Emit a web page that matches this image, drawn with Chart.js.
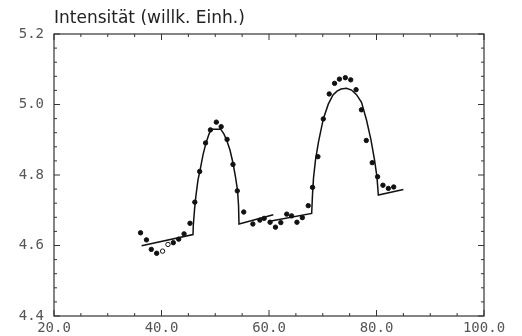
<!DOCTYPE html>
<html>
<head>
<meta charset="utf-8">
<script src="https://cdn.jsdelivr.net/npm/chart.js@4.4.1/dist/chart.umd.min.js"></script>
<style>
  html, body { margin: 0; padding: 0; background: #fff; }
  #wrap { width: 522px; height: 336px; }
</style>
</head>
<body>
<div id="wrap"><canvas id="chart" width="522" height="336"></canvas></div>
<script>
// Measured intensities (dots)
const pointX = [36.1, 37.2, 38.1, 39.1, 40.2, 41.2, 42.2, 43.2, 44.2, 45.3,
  46.2, 47.1, 48.2, 49.1, 50.2, 51.1, 52.2, 53.3, 54.1, 55.3,
  57.0, 58.3, 59.1, 60.2, 61.2, 62.2, 63.3, 64.2, 65.2, 66.2,
  67.3, 68.1, 69.1, 70.1, 71.2, 72.2, 73.1, 74.2, 75.2, 76.2,
  77.2, 78.1, 79.2, 80.2, 81.2, 82.2, 83.2];
const pointY = [4.636, 4.616, 4.589, 4.578, 4.584, 4.603, 4.608, 4.618, 4.633, 4.663,
  4.723, 4.810, 4.891, 4.928, 4.950, 4.937, 4.901, 4.830, 4.755, 4.695,
  4.661, 4.672, 4.677, 4.666, 4.652, 4.665, 4.689, 4.684, 4.666, 4.679,
  4.713, 4.765, 4.852, 4.959, 5.030, 5.060, 5.072, 5.076, 5.070, 5.042,
  4.985, 4.898, 4.835, 4.795, 4.771, 4.762, 4.766];
const hollowPoints = [4, 5];

// Fitted curve, drawn as three pieces
const fit1X = [36.3, 45.86, 45.92, 46.14, 46.42, 46.79, 47.26, 47.72, 48.28, 48.84, 49.21,
  50.14, 51.01, 51.63, 52.19, 52.74, 53.30, 53.77, 54.14, 54.33, 54.42, 60.8];
const fit1Y = [4.599, 4.631, 4.658, 4.701, 4.743, 4.786, 4.820, 4.857, 4.891, 4.916, 4.930,
  4.930, 4.930, 4.916, 4.896, 4.871, 4.834, 4.794, 4.757, 4.715, 4.661, 4.687];
const fit2X = [59.87, 67.94, 68.09, 68.28, 68.65, 69.21, 70.10, 71.03, 71.91, 72.65, 73.40,
  74.42, 75.35, 76.28, 77.21, 78.14, 78.98, 79.63, 80.09, 80.34, 85.0];
const fit2Y = [4.668, 4.691, 4.743, 4.791, 4.843, 4.894, 4.959, 5.001, 5.027, 5.038, 5.044,
  5.046, 5.041, 5.028, 5.006, 4.956, 4.899, 4.843, 4.794, 4.743, 4.759];

const xTicks = [20, 40, 60, 80, 100];
const yTicks = [4.4, 4.6, 4.8, 5.0, 5.2];
const titleText = 'Intensität (willk. Einh.)';

const toXY = (xs, ys) => xs.map((x, i) => ({ x: x, y: ys[i] }));

// Frame with inward ticks on all four sides
const framePlugin = {
  id: 'frame',
  afterDraw(chart) {
    const { ctx, chartArea: a, scales } = chart;
    const sx = scales.x, sy = scales.y;
    ctx.save();
    ctx.strokeStyle = '#333';
    ctx.lineWidth = 1.2;
    ctx.strokeRect(a.left, a.top, a.right - a.left, a.bottom - a.top);
    ctx.lineWidth = 1;
    ctx.beginPath();
    for (let v = 20; v <= 100; v += 5) {
      const px = sx.getPixelForValue(v);
      const len = v % 20 === 0 ? 6 : 3;
      ctx.moveTo(px, a.bottom); ctx.lineTo(px, a.bottom - len);
      ctx.moveTo(px, a.top); ctx.lineTo(px, a.top + len);
    }
    for (let k = 0; k <= 20; k++) {
      const v = 4.4 + k * 0.04;
      const py = sy.getPixelForValue(v);
      const len = k % 5 === 0 ? 6 : 3;
      ctx.moveTo(a.left, py); ctx.lineTo(a.left + len, py);
      ctx.moveTo(a.right, py); ctx.lineTo(a.right - len, py);
    }
    ctx.stroke();
    ctx.restore();
  }
};

const lineStyle = {
  type: 'line',
  borderColor: '#111',
  borderWidth: 1.5,
  pointRadius: 0,
  fill: false,
  tension: 0
};

new Chart(document.getElementById('chart'), {
  type: 'scatter',
  data: {
    datasets: [
      {
        label: 'Messwerte',
        data: toXY(pointX, pointY),
        pointRadius: 2.2,
        pointBorderWidth: 1,
        borderColor: '#111',
        pointBackgroundColor: pointX.map((_, i) => hollowPoints.includes(i) ? '#fff' : '#111')
      },
      Object.assign({ label: 'Fit 1', data: toXY(fit1X, fit1Y) }, lineStyle),
      Object.assign({ label: 'Fit 2', data: toXY(fit2X, fit2Y) }, lineStyle)
    ]
  },
  options: {
    responsive: false,
    animation: false,
    layout: { padding: { left: 0, right: 38, top: 0, bottom: 0 } },
    plugins: {
      legend: { display: false },
      tooltip: { enabled: false },
      title: {
        display: true,
        text: titleText,
        align: 'start',
        fullSize: false,
        color: '#222',
        font: { family: 'DejaVu Sans', size: 17, weight: 'normal' },
        padding: { top: 8, bottom: 5.6 }
      }
    },
    scales: {
      x: {
        type: 'linear',
        min: 20,
        max: 100,
        afterBuildTicks: (s) => { s.ticks = xTicks.map(v => ({ value: v })); },
        afterFit: (s) => { s.height = 20; },
        grid: { display: false, drawTicks: false },
        border: { display: false },
        ticks: {
          padding: 4,
          color: '#555',
          maxRotation: 0,
          font: { family: 'DejaVu Sans Mono', size: 14 },
          callback: (v) => Number(v).toFixed(1)
        }
      },
      y: {
        min: 4.4,
        max: 5.2,
        afterBuildTicks: (s) => { s.ticks = yTicks.map(v => ({ value: v })); },
        afterFit: (s) => { s.width = 54; },
        grid: { display: false, drawTicks: false },
        border: { display: false },
        ticks: {
          padding: 10,
          color: '#555',
          font: { family: 'DejaVu Sans Mono', size: 14 },
          callback: (v) => Number(v).toFixed(1)
        }
      }
    }
  },
  plugins: [framePlugin]
});
</script>
</body>
</html>
